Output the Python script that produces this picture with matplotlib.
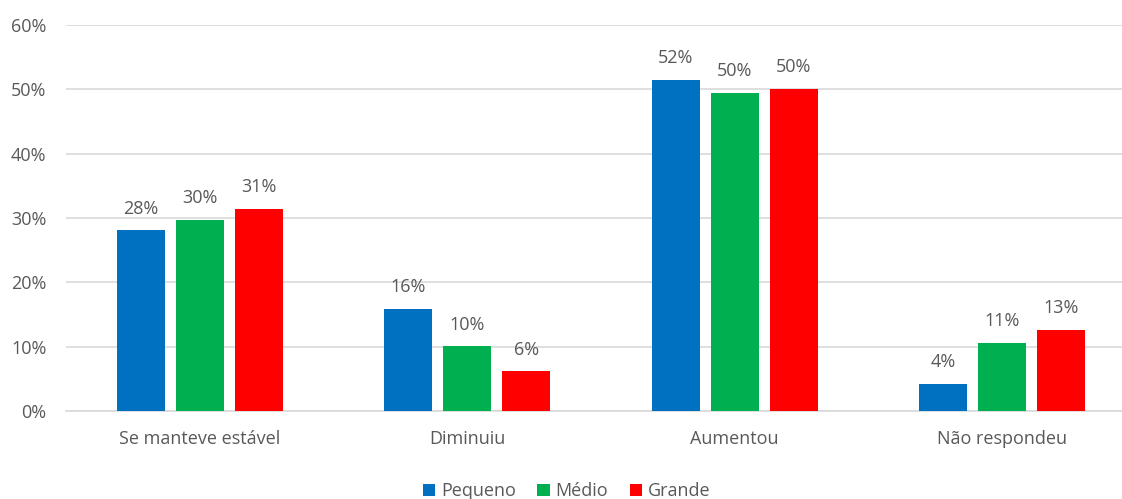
import matplotlib.pyplot as plt
import numpy as np

plt.rcParams['font.family'] = ['Open Sans', 'DejaVu Sans']

categories = ["Se manteve estável", "Diminuiu", "Aumentou", "Não respondeu"]
series = ["Pequeno", "Médio", "Grande"]
pequeno = [28.1, 15.9, 51.5, 4.2]
medio = [29.7, 10.1, 49.5, 10.6]
grande = [31.4, 6.2, 50.1, 12.6]
labels_pequeno = ["28%", "16%", "52%", "4%"]
labels_medio = ["30%", "10%", "50%", "11%"]
labels_grande = ["31%", "6%", "50%", "13%"]

colors = ["#0070C0", "#00B050", "#FF0000"]
text_color = "#595959"

fig = plt.figure(figsize=(11.22, 4.99), dpi=100)
ax = fig.add_axes([66 / 1122, 1 - 411 / 499, 1070 / 1122, 386 / 499])

x = np.arange(len(categories))
width = 0.179
step = 0.2206
data = [pequeno, medio, grande]
labels = [labels_pequeno, labels_medio, labels_grande]

for i, (vals, labs) in enumerate(zip(data, labels)):
    bars = ax.bar(x + (i - 1) * step, vals, width, color=colors[i], label=series[i], zorder=3)
    for b, lab in zip(bars, labs):
        ax.annotate(lab, (b.get_x() + b.get_width() / 2, b.get_height()),
                    xytext=(0, 9), textcoords="offset points", ha="center", va="bottom",
                    fontsize=13, color=text_color)

ax.set_xlim(-0.5, len(categories) - 0.5)
ax.set_ylim(0, 60)
ax.set_yticks(range(0, 61, 10))
ax.set_yticklabels([f"{v}%" for v in range(0, 61, 10)])
ax.set_xticks(x)
ax.set_xticklabels(categories)
ax.tick_params(axis="both", length=0, labelsize=13, labelcolor=text_color)
ax.tick_params(axis="y", pad=14)
ax.tick_params(axis="x", pad=14)
ax.grid(axis="y", color="#D9D9D9", linewidth=1.2, zorder=0)
for s in ["top", "right", "left"]:
    ax.spines[s].set_visible(False)
ax.spines["bottom"].set_color("#D9D9D9")
ax.spines["bottom"].set_linewidth(1.2)

fig.legend(loc="lower center", bbox_to_anchor=(0.505, -0.035), ncol=3, frameon=False,
           fontsize=13, handlelength=0.7, handleheight=0.7, handletextpad=0.3,
           columnspacing=1.2, labelcolor=text_color)

fig.savefig("out.png", dpi=100)
